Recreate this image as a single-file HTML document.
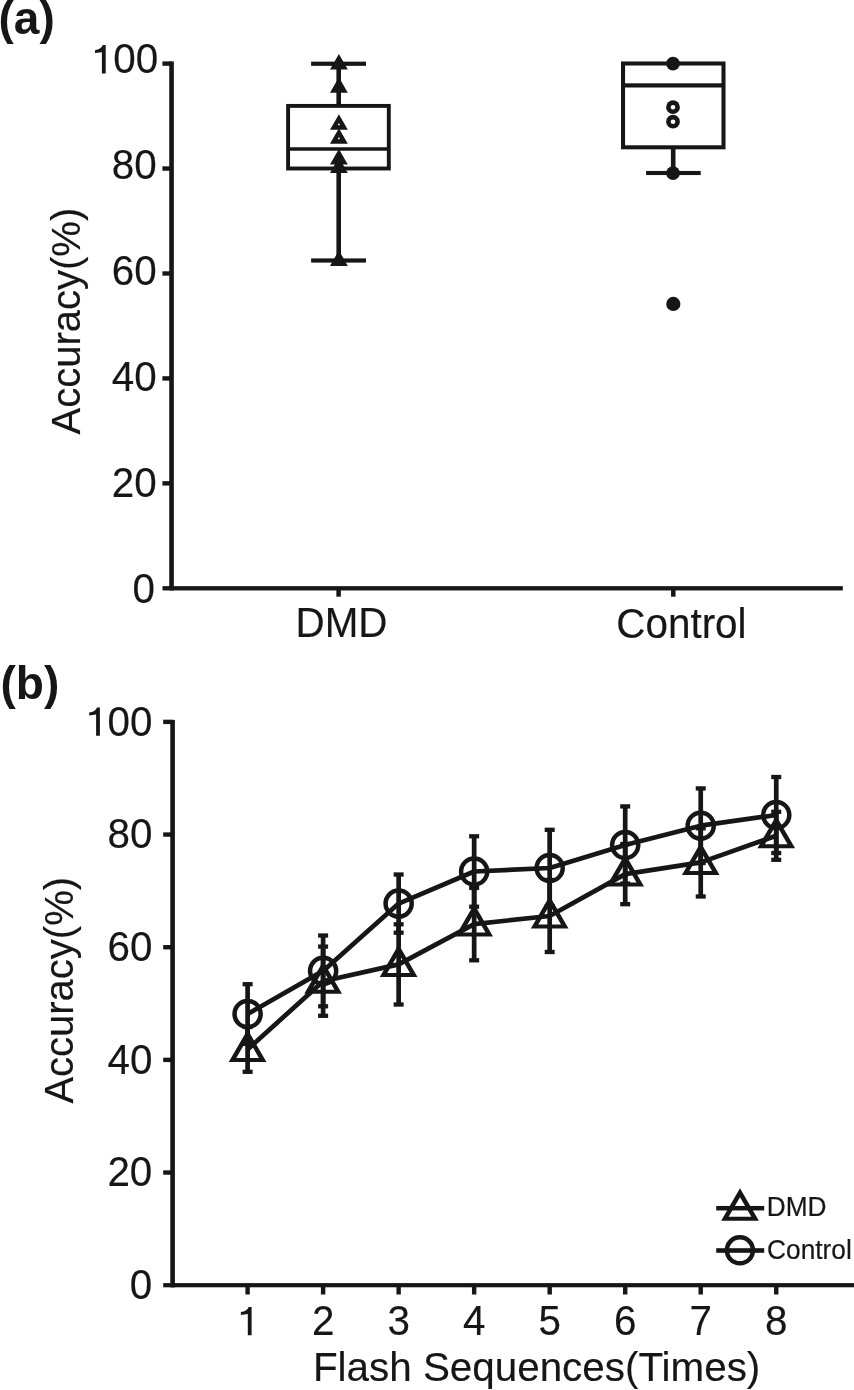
<!DOCTYPE html>
<html><head><meta charset="utf-8"><title>Accuracy: DMD vs Control</title>
<style>
html,body{margin:0;padding:0;background:#fff;width:854px;height:1390px;overflow:hidden;}
svg{display:block;filter:grayscale(1);}
text{font-family:"Liberation Sans",sans-serif;fill:#161616;}
</style></head><body>
<svg width="854" height="1390" viewBox="0 0 854 1390" fill="#161616">
<rect x="169.25" y="61.4" width="4.6" height="529"/>
<rect x="162.5" y="586.15" width="680.3" height="4.3"/>
<rect x="162.4" y="61.4" width="9.15" height="4.4"/>
<rect x="162.4" y="166.34" width="9.15" height="4.4"/>
<rect x="162.4" y="271.28" width="9.15" height="4.4"/>
<rect x="162.4" y="376.22" width="9.15" height="4.4"/>
<rect x="162.4" y="481.16" width="9.15" height="4.4"/>
<rect x="336.35" y="588" width="4.5" height="8.7"/>
<rect x="671.05" y="588" width="4.5" height="8.7"/>
<text transform="translate(156.64,179.1) scale(1.01,1.04)" font-size="40" text-anchor="end" font-weight="normal" stroke="#161616" stroke-width="0.15">80</text>
<text transform="translate(156.64,284.6) scale(1.01,1.04)" font-size="40" text-anchor="end" font-weight="normal" stroke="#161616" stroke-width="0.15">60</text>
<text transform="translate(156.64,390.6) scale(1.01,1.04)" font-size="40" text-anchor="end" font-weight="normal" stroke="#161616" stroke-width="0.15">40</text>
<text transform="translate(156.64,496.6) scale(1.01,1.04)" font-size="40" text-anchor="end" font-weight="normal" stroke="#161616" stroke-width="0.15">20</text>
<text transform="translate(155.04,603.2) scale(1.01,1.04)" font-size="40" text-anchor="end" font-weight="normal" stroke="#161616" stroke-width="0.15">0</text>
<text transform="translate(158.2,73.45) scale(1.01,1.04)" font-size="40" text-anchor="end" font-weight="normal" stroke="#161616" stroke-width="0.15">00</text>
<path transform="translate(90.6,73.45)" d="M4.4 -20.4 L11.3 -21.3 L11.3 0 L15.1 0 L15.1 -28.4 L12.2 -28.4 C11.0 -25.6 8.4 -23.7 4.4 -23.3 Z"/>
<text transform="translate(295.5,637.2) scale(1.01,1.04)" font-size="40" text-anchor="start" font-weight="normal" stroke="#161616" stroke-width="0.15">DMD</text>
<text transform="translate(616.3,637.5) scale(1.01,1.04)" font-size="40" text-anchor="start" font-weight="normal" stroke="#161616" stroke-width="0.15">Control</text>
<text transform="translate(80.1,434.4) rotate(-90) scale(1,1.02)" font-size="40" stroke="#161616" stroke-width="0.15">Accuracy(%)</text>
<text transform="translate(-1.5,33.9) scale(1,1)" font-size="46" text-anchor="start" font-weight="bold">(a)</text>
<rect x="336.4" y="63.75" width="4.6" height="42.25"/>
<rect x="336.4" y="168.5" width="4.6" height="92"/>
<rect x="311.1" y="61.65" width="54.9" height="4.2"/>
<rect x="311.1" y="258.4" width="54.9" height="4.2"/>
<rect x="288.1" y="105.9" width="100.7" height="62.6" fill="none" stroke="#161616" stroke-width="3.9"/>
<rect x="288.1" y="147.25" width="100.7" height="3.5"/>
<path d="M330,69.5 L347.8,69.5 L338.9,53.9 Z"/>
<path d="M330,92.8 L347.8,92.8 L338.9,77.2 Z"/>
<path d="M330,129.8 L347.8,129.8 L338.9,114.2 Z"/>
<circle cx="338.9" cy="124.4" r="0.9" fill="#fff"/>
<path d="M330,143.8 L347.8,143.8 L338.9,128.2 Z"/>
<circle cx="338.9" cy="138.4" r="0.9" fill="#fff"/>
<path d="M330,164.6 L347.8,164.6 L338.9,149 Z"/>
<path d="M330,172.9 L347.8,172.9 L338.9,157.3 Z"/>
<path d="M330,265.9 L347.8,265.9 L338.9,250.3 Z"/>
<rect x="670.9" y="147.3" width="4.6" height="25.7"/>
<rect x="646.1" y="170.95" width="54.6" height="4.1"/>
<rect x="623.05" y="63.5" width="100.45" height="83.8" fill="none" stroke="#161616" stroke-width="4.05"/>
<rect x="623" y="83.3" width="100.5" height="4.2"/>
<circle cx="673" cy="63.7" r="6.9"/>
<circle cx="673" cy="107.2" r="6.9"/>
<circle cx="673" cy="107.2" r="2.3" fill="#fff"/>
<circle cx="673" cy="121.7" r="6.9"/>
<circle cx="673" cy="121.7" r="2.3" fill="#fff"/>
<circle cx="673" cy="173.1" r="6.9"/>
<circle cx="673.3" cy="303.9" r="7.1"/>
<rect x="170.3" y="719.9" width="4.6" height="567.5"/>
<rect x="163.2" y="1283.1" width="690.8" height="4.2"/>
<rect x="163.2" y="719.7" width="9.4" height="4.4"/>
<rect x="163.2" y="832.36" width="9.4" height="4.4"/>
<rect x="163.2" y="945.02" width="9.4" height="4.4"/>
<rect x="163.2" y="1057.68" width="9.4" height="4.4"/>
<rect x="163.2" y="1170.34" width="9.4" height="4.4"/>
<rect x="245.4" y="1285" width="4.4" height="9.5"/>
<path transform="translate(236.5,1335.3)" d="M4.4 -20.4 L11.3 -21.3 L11.3 0 L15.1 0 L15.1 -28.4 L12.2 -28.4 C11.0 -25.6 8.4 -23.7 4.4 -23.3 Z"/>
<rect x="320.92" y="1285" width="4.4" height="9.5"/>
<text transform="translate(323.12,1335.3) scale(1.01,1.04)" font-size="40" text-anchor="middle" font-weight="normal" stroke="#161616" stroke-width="0.15">2</text>
<rect x="396.44" y="1285" width="4.4" height="9.5"/>
<text transform="translate(398.64,1335.3) scale(1.01,1.04)" font-size="40" text-anchor="middle" font-weight="normal" stroke="#161616" stroke-width="0.15">3</text>
<rect x="471.96" y="1285" width="4.4" height="9.5"/>
<text transform="translate(474.16,1335.3) scale(1.01,1.04)" font-size="40" text-anchor="middle" font-weight="normal" stroke="#161616" stroke-width="0.15">4</text>
<rect x="547.48" y="1285" width="4.4" height="9.5"/>
<text transform="translate(549.68,1335.3) scale(1.01,1.04)" font-size="40" text-anchor="middle" font-weight="normal" stroke="#161616" stroke-width="0.15">5</text>
<rect x="623" y="1285" width="4.4" height="9.5"/>
<text transform="translate(625.2,1335.3) scale(1.01,1.04)" font-size="40" text-anchor="middle" font-weight="normal" stroke="#161616" stroke-width="0.15">6</text>
<rect x="698.52" y="1285" width="4.4" height="9.5"/>
<text transform="translate(700.72,1335.3) scale(1.01,1.04)" font-size="40" text-anchor="middle" font-weight="normal" stroke="#161616" stroke-width="0.15">7</text>
<rect x="774.04" y="1285" width="4.4" height="9.5"/>
<text transform="translate(776.24,1335.3) scale(1.01,1.04)" font-size="40" text-anchor="middle" font-weight="normal" stroke="#161616" stroke-width="0.15">8</text>
<text transform="translate(152.54,848.3) scale(1.01,1.04)" font-size="40" text-anchor="end" font-weight="normal" stroke="#161616" stroke-width="0.15">80</text>
<text transform="translate(152.54,960.5) scale(1.01,1.04)" font-size="40" text-anchor="end" font-weight="normal" stroke="#161616" stroke-width="0.15">60</text>
<text transform="translate(152.54,1073.9) scale(1.01,1.04)" font-size="40" text-anchor="end" font-weight="normal" stroke="#161616" stroke-width="0.15">40</text>
<text transform="translate(152.34,1186.3) scale(1.01,1.04)" font-size="40" text-anchor="end" font-weight="normal" stroke="#161616" stroke-width="0.15">20</text>
<text transform="translate(152.14,1299) scale(1.01,1.04)" font-size="40" text-anchor="end" font-weight="normal" stroke="#161616" stroke-width="0.15">0</text>
<text transform="translate(152.4,735.8) scale(1.01,1.04)" font-size="40" text-anchor="end" font-weight="normal" stroke="#161616" stroke-width="0.15">00</text>
<path transform="translate(84.8,735.8)" d="M4.4 -20.4 L11.3 -21.3 L11.3 0 L15.1 0 L15.1 -28.4 L12.2 -28.4 C11.0 -25.6 8.4 -23.7 4.4 -23.3 Z"/>
<text transform="translate(312.9,1380.9) scale(1.01,1.0)" font-size="40" text-anchor="start" font-weight="normal" stroke="#161616" stroke-width="0.15">Flash Sequences(Times)</text>
<text transform="translate(73.3,1103.6) rotate(-90) scale(1,1.02)" font-size="40" stroke="#161616" stroke-width="0.15">Accuracy(%)</text>
<text transform="translate(0.5,698.9) scale(1,1)" font-size="46" text-anchor="start" font-weight="bold">(b)</text>
<rect x="245.25" y="984.2" width="4.7" height="59.6"/>
<rect x="242.6" y="982.05" width="10" height="4.3"/>
<rect x="242.6" y="1041.65" width="10" height="4.3"/>
<rect x="320.77" y="935.5" width="4.7" height="70.8"/>
<rect x="318.12" y="933.35" width="10" height="4.3"/>
<rect x="318.12" y="1004.15" width="10" height="4.3"/>
<rect x="396.29" y="874.5" width="4.7" height="58.2"/>
<rect x="393.64" y="872.35" width="10" height="4.3"/>
<rect x="393.64" y="930.55" width="10" height="4.3"/>
<rect x="471.81" y="836.3" width="4.7" height="70.4"/>
<rect x="469.16" y="834.15" width="10" height="4.3"/>
<rect x="469.16" y="904.55" width="10" height="4.3"/>
<rect x="547.33" y="829.8" width="4.7" height="76.4"/>
<rect x="544.68" y="827.65" width="10" height="4.3"/>
<rect x="544.68" y="904.05" width="10" height="4.3"/>
<rect x="622.85" y="806.4" width="4.7" height="77.2"/>
<rect x="620.2" y="804.25" width="10" height="4.3"/>
<rect x="620.2" y="881.45" width="10" height="4.3"/>
<rect x="698.37" y="788.4" width="4.7" height="74.6"/>
<rect x="695.72" y="786.25" width="10" height="4.3"/>
<rect x="695.72" y="860.85" width="10" height="4.3"/>
<rect x="773.89" y="777" width="4.7" height="76"/>
<rect x="771.24" y="774.85" width="10" height="4.3"/>
<rect x="771.24" y="850.85" width="10" height="4.3"/>
<rect x="245.25" y="1027" width="4.7" height="44.8"/>
<rect x="242.6" y="1024.85" width="10" height="4.3"/>
<rect x="242.6" y="1069.65" width="10" height="4.3"/>
<rect x="320.77" y="946.6" width="4.7" height="69.2"/>
<rect x="318.12" y="944.45" width="10" height="4.3"/>
<rect x="318.12" y="1013.65" width="10" height="4.3"/>
<rect x="396.29" y="924.3" width="4.7" height="80.2"/>
<rect x="393.64" y="922.15" width="10" height="4.3"/>
<rect x="393.64" y="1002.35" width="10" height="4.3"/>
<rect x="471.81" y="887.9" width="4.7" height="72.4"/>
<rect x="469.16" y="885.75" width="10" height="4.3"/>
<rect x="469.16" y="958.15" width="10" height="4.3"/>
<rect x="547.33" y="880" width="4.7" height="72"/>
<rect x="544.68" y="877.85" width="10" height="4.3"/>
<rect x="544.68" y="949.85" width="10" height="4.3"/>
<rect x="622.85" y="844" width="4.7" height="60.2"/>
<rect x="620.2" y="841.85" width="10" height="4.3"/>
<rect x="620.2" y="902.05" width="10" height="4.3"/>
<rect x="698.37" y="828.3" width="4.7" height="68.2"/>
<rect x="695.72" y="826.15" width="10" height="4.3"/>
<rect x="695.72" y="894.35" width="10" height="4.3"/>
<rect x="773.89" y="811.8" width="4.7" height="48"/>
<rect x="771.24" y="809.65" width="10" height="4.3"/>
<rect x="771.24" y="857.65" width="10" height="4.3"/>
<polyline points="247.6,1014 323.12,970.9 398.64,903.6 474.16,871.5 549.68,868 625.2,845 700.72,825.7 776.24,815" fill="none" stroke="#161616" stroke-width="4.7" stroke-linejoin="round"/>
<polyline points="247.6,1049.4 323.12,981.2 398.64,964.4 474.16,924.1 549.68,916 625.2,874.1 700.72,862.4 776.24,835.8" fill="none" stroke="#161616" stroke-width="4.7" stroke-linejoin="round"/>
<circle cx="247.6" cy="1014" r="13.05" fill="none" stroke="#161616" stroke-width="4.5"/>
<circle cx="323.12" cy="970.9" r="13.05" fill="none" stroke="#161616" stroke-width="4.5"/>
<circle cx="398.64" cy="903.6" r="13.05" fill="none" stroke="#161616" stroke-width="4.5"/>
<circle cx="474.16" cy="871.5" r="13.05" fill="none" stroke="#161616" stroke-width="4.5"/>
<circle cx="549.68" cy="868" r="13.05" fill="none" stroke="#161616" stroke-width="4.5"/>
<circle cx="625.2" cy="845" r="13.05" fill="none" stroke="#161616" stroke-width="4.5"/>
<circle cx="700.72" cy="825.7" r="13.05" fill="none" stroke="#161616" stroke-width="4.5"/>
<circle cx="776.24" cy="815" r="13.05" fill="none" stroke="#161616" stroke-width="4.5"/>
<path fill-rule="evenodd" d="M228.75,1061.91 L247.6,1029.41 L266.45,1061.91 Z M236.27,1057.91 L247.6,1038.38 L258.93,1057.91 Z"/>
<path fill-rule="evenodd" d="M304.27,993.71 L323.12,961.21 L341.97,993.71 Z M311.79,989.71 L323.12,970.18 L334.45,989.71 Z"/>
<path fill-rule="evenodd" d="M379.79,976.91 L398.64,944.41 L417.49,976.91 Z M387.31,972.91 L398.64,953.38 L409.97,972.91 Z"/>
<path fill-rule="evenodd" d="M455.31,936.61 L474.16,904.11 L493.01,936.61 Z M462.83,932.61 L474.16,913.08 L485.49,932.61 Z"/>
<path fill-rule="evenodd" d="M530.83,928.51 L549.68,896.01 L568.53,928.51 Z M538.35,924.51 L549.68,904.98 L561.01,924.51 Z"/>
<path fill-rule="evenodd" d="M606.35,886.61 L625.2,854.11 L644.05,886.61 Z M613.87,882.61 L625.2,863.08 L636.53,882.61 Z"/>
<path fill-rule="evenodd" d="M681.87,874.91 L700.72,842.41 L719.57,874.91 Z M689.39,870.91 L700.72,851.38 L712.05,870.91 Z"/>
<path fill-rule="evenodd" d="M757.39,848.31 L776.24,815.81 L795.09,848.31 Z M764.91,844.31 L776.24,824.78 L787.57,844.31 Z"/>
<rect x="716.2" y="1205.95" width="48" height="4.5"/>
<path fill-rule="evenodd" d="M721.15,1220.71 L740,1188.21 L758.85,1220.71 Z M728.67,1216.71 L740,1197.18 L751.33,1216.71 Z"/>
<text transform="translate(766.7,1216.2) scale(1.01,1.04)" font-size="26" text-anchor="start" font-weight="normal" stroke="#161616" stroke-width="0.2">DMD</text>
<rect x="716.2" y="1248.2" width="48" height="4.6"/>
<circle cx="739.9" cy="1250.3" r="13.05" fill="none" stroke="#161616" stroke-width="4.5"/>
<text transform="translate(767.1,1258.9) scale(1.01,1.04)" font-size="26" text-anchor="start" font-weight="normal" stroke="#161616" stroke-width="0.2">Control</text>
</svg>
</body></html>
